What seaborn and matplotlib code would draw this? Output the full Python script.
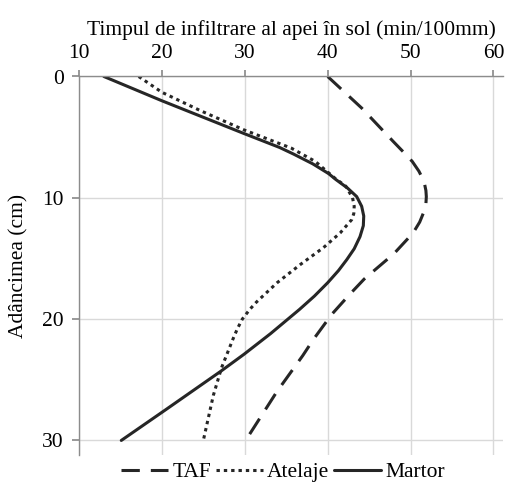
import matplotlib
matplotlib.use("Agg")
import matplotlib.pyplot as plt
from matplotlib.lines import Line2D
import seaborn as sns
import pandas as pd

# ---- data ----
martor_depth = [0, 2.0, 4.7, 5.85, 6.4, 7.2, 8.0, 8.5, 9.2, 9.9, 10.7, 11.5, 12.3, 13.2, 14.2, 15.1, 16.0, 17.0, 18.1, 19.2, 21.2, 22.9, 24.3, 27.4, 30]
martor_time = [13.0, 20.0, 29.9, 34.2, 35.9, 38.2, 40.1, 41.0, 42.4, 43.5, 44.1, 44.35, 44.3, 43.9, 43.2, 42.3, 41.3, 40.0, 38.4, 36.6, 33.1, 29.9, 27.1, 20.6, 15.1]

atelaje_depth = [0, 1.3, 2.8, 4.4, 5.9, 7.0, 8.4, 9.05, 10.0, 10.7, 11.3, 11.8, 12.9, 14.1, 15.5, 17.0, 18.6, 19.2, 20.0, 20.8, 21.6, 24.0, 26.3, 30]
atelaje_time = [17.2, 20.0, 24.6, 29.9, 35.6, 38.5, 40.9, 42.2, 43.0, 43.2, 43.15, 42.9, 41.5, 39.5, 36.7, 33.9, 31.4, 30.6, 29.7, 29.1, 28.6, 27.2, 26.2, 25.0]

taf_depth = [0, 2.6, 5.35, 6.2, 7.0, 7.8, 8.4, 8.9, 9.4, 9.9, 10.5, 11.0, 12.0, 12.9, 14.6, 16.7, 18.0, 19.6, 21.65, 23.0, 26.0, 30]
taf_time = [40.0, 44.1, 47.9, 49.1, 50.2, 51.0, 51.45, 51.7, 51.85, 51.9, 51.85, 51.7, 51.1, 50.3, 48.0, 44.4, 42.6, 40.5, 38.3, 37.0, 33.85, 30.1]

series_names = ["TAF", "Atelaje", "Martor"]
x_ticks = [10, 20, 30, 40, 50, 60]
y_ticks = [0, 10, 20, 30]
x_title = "Timpul de infiltrare al apei în sol (min/100mm)"
y_title = "Adâncimea (cm)"

df = pd.concat([
    pd.DataFrame({"depth": taf_depth, "time": taf_time, "series": "TAF"}),
    pd.DataFrame({"depth": atelaje_depth, "time": atelaje_time, "series": "Atelaje"}),
    pd.DataFrame({"depth": martor_depth, "time": martor_time, "series": "Martor"}),
], ignore_index=True)

sns.set_theme(style="white")
plt.rcParams["font.family"] = ["Liberation Serif", "DejaVu Serif"]
plt.rcParams["text.color"] = "black"
plt.rcParams["axes.labelcolor"] = "black"
plt.rcParams["xtick.color"] = "black"
plt.rcParams["ytick.color"] = "black"

line_color = "#262626"
grid_color = "#d9d9d9"
spine_color = "#8c8c8c"
fs = 15.5
lw = 2.2
dash_map = {"TAF": (6, 3.6), "Atelaje": (1.1, 1.3), "Martor": ""}

fig = plt.figure(figsize=(5.06, 4.90), dpi=100)
ax = fig.add_axes([79 / 506, 1 - 455 / 490, (503 - 79) / 506, (455 - 76.5) / 490])

sns.lineplot(data=df, x="time", y="depth", hue="series", style="series",
             palette={n: line_color for n in series_names}, dashes=dash_map,
             estimator=None, sort=False, orient="y", linewidth=lw,
             legend=False, ax=ax)

ax.set_xlim(10, 61.15)
ax.set_ylim(31.2, 0)
ax.set_xticks(x_ticks)
ax.set_yticks(y_ticks)
ax.xaxis.tick_top()
ax.xaxis.set_label_position("top")
ax.set_xlabel(x_title, fontsize=fs, labelpad=6, color="black")
ax.set_ylabel(y_title, fontsize=fs, labelpad=10, color="black")
ax.tick_params(axis="x", labelsize=fs, length=4, color=spine_color, labelcolor="black",
               pad=6, top=True, bottom=False)
ax.tick_params(axis="y", labelsize=fs, length=5, color=spine_color, labelcolor="black",
               pad=6, left=True)
ax.grid(True, color=grid_color, linewidth=1.0)
ax.set_axisbelow(True)
for s in ["right", "bottom"]:
    ax.spines[s].set_visible(False)
for s in ["top", "left"]:
    ax.spines[s].set_color(spine_color)
    ax.spines[s].set_linewidth(1.0)

handles = [Line2D([0], [0], color=line_color, lw=lw, dashes=dash_map[n]) if dash_map[n]
           else Line2D([0], [0], color=line_color, lw=lw) for n in series_names]
leg = fig.legend(handles, series_names, loc="center", bbox_to_anchor=(283 / 506, 1 - 472 / 490),
                 ncol=3, frameon=False, fontsize=fs, handlelength=2.2, handletextpad=0.2,
                 columnspacing=0.2, borderpad=0)
for t in leg.get_texts():
    t.set_color("black")

fig.savefig("out.png", dpi=100)
